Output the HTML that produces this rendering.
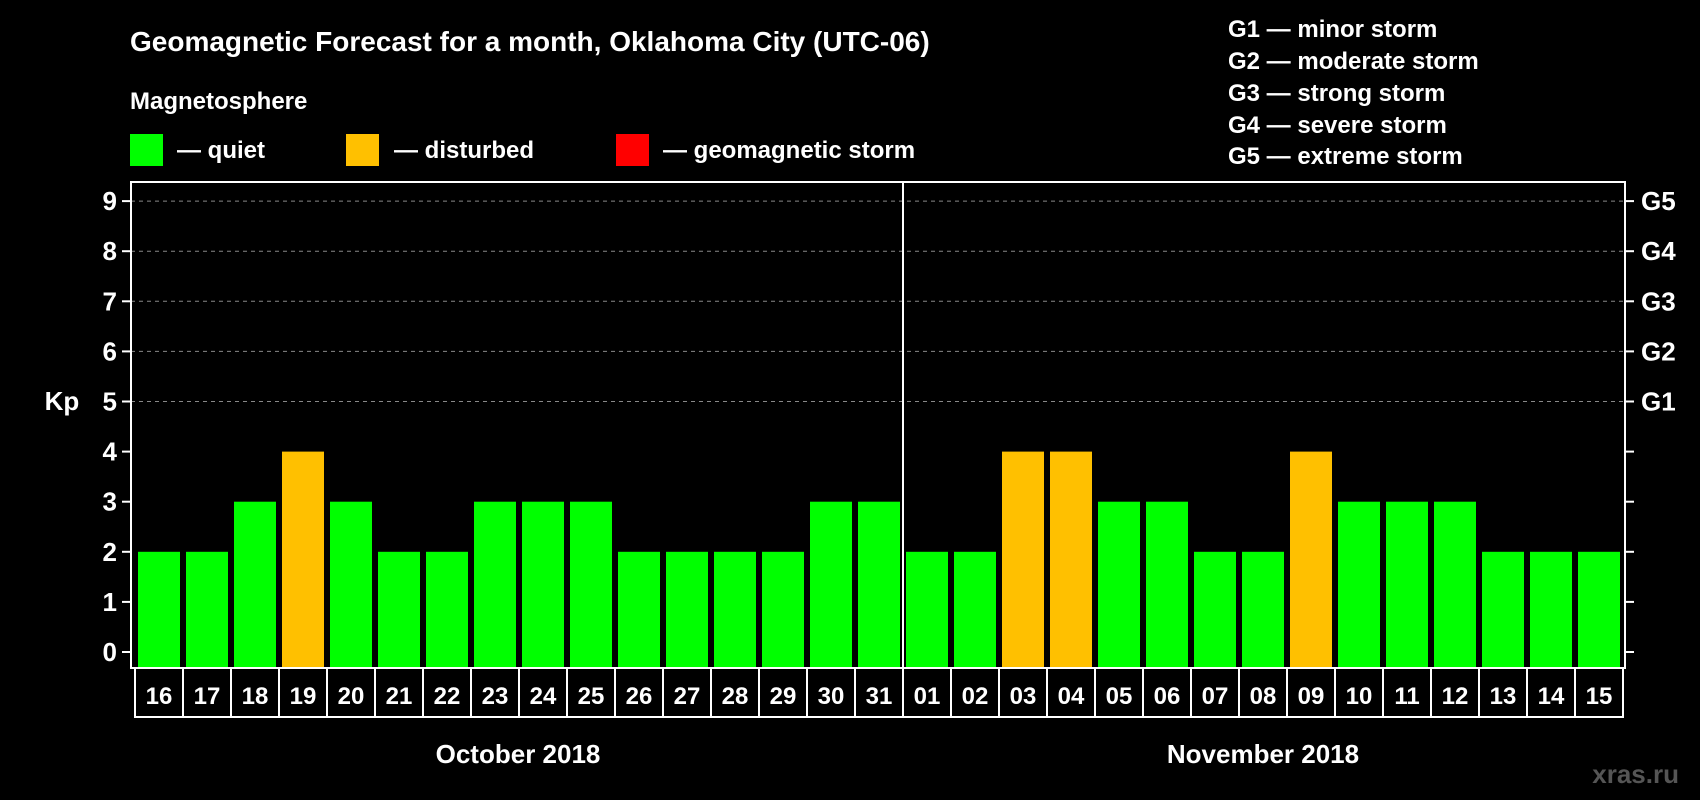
<!DOCTYPE html>
<html><head><meta charset="utf-8"><style>
html,body{margin:0;padding:0;background:#000;}
svg{display:block;font-family:"Liberation Sans",Arial,sans-serif;font-weight:bold;}
</style></head><body>
<svg id="chart" width="1700" height="800" viewBox="0 0 1700 800">
<rect x="0" y="0" width="1700" height="800" fill="#000"/>
<text x="130" y="51" fill="#fff" font-size="28">Geomagnetic Forecast for a month, Oklahoma City (UTC-06)</text>
<text x="130" y="109" fill="#fff" font-size="24">Magnetosphere</text>
<g>
<rect x="130" y="134" width="33" height="32" fill="#00ff00"/>
<text x="177" y="158" fill="#fff" font-size="24">— quiet</text></g>
<g>
<rect x="346" y="134" width="33" height="32" fill="#ffc000"/>
<text x="394" y="158" fill="#fff" font-size="24">— disturbed</text></g>
<g>
<rect x="616" y="134" width="33" height="32" fill="#ff0000"/>
<text x="663" y="158" fill="#fff" font-size="24">— geomagnetic storm</text></g>
<g fill="#fff" font-size="24">
<text x="1228" y="37">G1 — minor storm</text>
<text x="1228" y="69">G2 — moderate storm</text>
<text x="1228" y="101">G3 — strong storm</text>
<text x="1228" y="133">G4 — severe storm</text>
<text x="1228" y="164">G5 — extreme storm</text>
</g>
<text x="62" y="410" fill="#fff" font-size="26" text-anchor="middle">Kp</text>
<g id="grid"></g><g id="bars"></g><g id="axes"></g><g id="dates"></g>
<text x="518" y="763" fill="#fff" font-size="26" text-anchor="middle">October 2018</text>
<text x="1263" y="763" fill="#fff" font-size="26" text-anchor="middle">November 2018</text>
<text x="1679" y="783" fill="#555" font-size="26" text-anchor="end">xras.ru</text>
</svg>
<script>
const days = ["16","17","18","19","20","21","22","23","24","25","26","27","28","29","30","31","01","02","03","04","05","06","07","08","09","10","11","12","13","14","15"];
const kpValues = [2,2,3,4,3,2,2,3,3,3,2,2,2,2,3,3,2,2,4,4,3,3,2,2,4,3,3,3,2,2,2];
const yTicks = [0,1,2,3,4,5,6,7,8,9];
const gLabels = ["","","","","","G1","G2","G3","G4","G5"];
const monthSplit = 16;
const NS="http://www.w3.org/2000/svg";
const PL=131,PR=1625,PT=182,PB=668;
function y(v){return 652 - v*50.1;}
function x(i){return 138 + i*48;}
const BW=42;
function mk(tag,attrs,parent){const e=document.createElementNS(NS,tag);for(const k in attrs)e.setAttribute(k,attrs[k]);parent.appendChild(e);return e;}
const grid=document.getElementById('grid'),bars=document.getElementById('bars'),axes=document.getElementById('axes'),dates=document.getElementById('dates');
yTicks.forEach((t,i)=>{
  if(t>=5){const l=mk('line',{x1:PL,x2:PR,y1:y(t),y2:y(t),stroke:'#888','stroke-width':1,'stroke-dasharray':'4,4'},grid);
  
  }
  const a=mk('line',{x1:PL-9,x2:PL,y1:y(t),y2:y(t),stroke:'#fff','stroke-width':2},axes);
  
  
  const b=mk('line',{x1:PR,x2:PR+9,y1:y(t),y2:y(t),stroke:'#fff','stroke-width':2},axes);
  
  
  const tx=mk('text',{x:117,y:y(t)+9,fill:'#fff','font-size':26,'text-anchor':'end'},axes);tx.textContent=t;
  
  
  if(gLabels[i]){const g=mk('text',{x:1641,y:y(t)+9,fill:'#fff','font-size':26},axes);g.textContent=gLabels[i];
  
  }
});
kpValues.forEach((v,i)=>{
  const c=v>=5?'#ff0000':(v>=4?'#ffc000':'#00ff00');
  const r=mk('rect',{x:x(i),y:y(v),width:BW,height:PB-y(v),fill:c},bars);
  
  
});
const frame=mk('rect',{x:PL,y:PT,width:PR-PL,height:PB-PT,fill:'none',stroke:'#fff','stroke-width':2},axes);


const div=mk('line',{x1:x(monthSplit)-3,x2:x(monthSplit)-3,y1:PT,y2:PB,stroke:'#fff','stroke-width':2},axes);


const dbox=mk('rect',{x:x(0)-3,y:PB,width:days.length*48,height:49,fill:'none',stroke:'#fff','stroke-width':2},dates);


days.forEach((d,i)=>{
  if(i>0){const s=mk('line',{x1:x(i)-3,x2:x(i)-3,y1:PB,y2:PB+49,stroke:'#fff','stroke-width':2},dates);
  
  }
  const t=mk('text',{x:x(i)+BW/2,y:PB+36,fill:'#fff','font-size':24,'text-anchor':'middle'},dates);t.textContent=d;
  
  
});
</script>
</body></html>
